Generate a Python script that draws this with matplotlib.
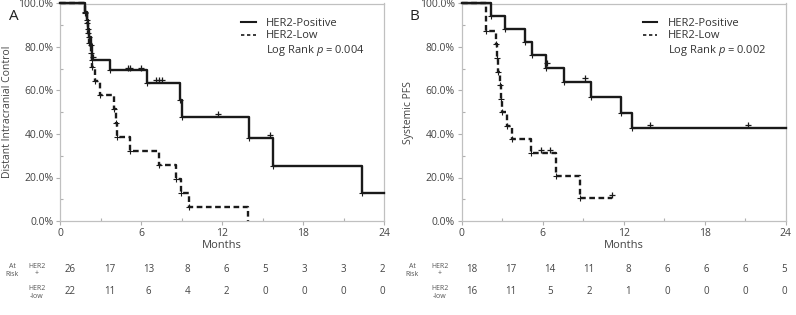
import numpy as np
import matplotlib
matplotlib.use('Agg')
import matplotlib.pyplot as plt
import matplotlib.transforms as mtransforms
from matplotlib.lines import Line2D
from matplotlib.ticker import MultipleLocator, FuncFormatter

plt.rcParams['font.family'] = ['Open Sans', 'DejaVu Sans']
plt.rcParams['mathtext.fontset'] = 'custom'
plt.rcParams['mathtext.it'] = 'Open Sans:italic'
plt.rcParams['mathtext.rm'] = 'Open Sans'

# Panel A - distant intracranial control
a_pos_t = [0, 1.85, 1.95, 2.05, 2.15, 2.25, 2.35, 3.65, 6.45, 8.85, 9.05, 14.0, 15.8, 22.4, 24]
a_pos_s = [100, 96.2, 92.3, 88.5, 84.6, 80.8, 74.0, 69.2, 63.5, 55.6, 47.6, 38.0, 25.4, 12.7, 12.7]
a_pos_cens_t = [2.45, 5.0, 5.15, 5.95, 7.1, 7.3, 7.55, 11.7, 15.55]
a_pos_cens_s = [75.5, 70.5, 70.5, 70.5, 65.0, 65.0, 65.0, 49.0, 39.5]

a_low_t = [0, 1.85, 1.95, 2.05, 2.15, 2.25, 2.32, 2.55, 2.98, 3.98, 4.15, 4.22, 5.2, 7.3, 8.6, 8.98, 9.55, 13.93]
a_low_s = [100, 95.5, 90.9, 86.4, 81.8, 77.3, 71.0, 64.5, 58.0, 51.7, 45.0, 38.7, 32.3, 25.8, 19.4, 12.9, 6.5, 0]
a_low_cens_t = []
a_low_cens_s = []

a_risk_pos = [26, 17, 13, 8, 6, 5, 3, 3, 2]
a_risk_low = [22, 11, 6, 4, 2, 0, 0, 0, 0]

# Panel B - systemic PFS
b_pos_t = [0, 2.17, 3.23, 4.69, 5.23, 6.25, 7.58, 9.58, 11.78, 12.64, 24]
b_pos_s = [100, 94.4, 88.3, 82.4, 76.4, 70.5, 64.1, 56.9, 49.8, 42.7, 42.7]
b_pos_cens_t = [6.3, 9.15, 13.95, 21.2]
b_pos_cens_s = [72.5, 65.6, 44.0, 44.0]

b_low_t = [0, 1.8, 2.52, 2.6, 2.68, 2.85, 2.9, 3.0, 3.33, 3.7, 5.11, 7.01, 8.77, 11.16]
b_low_s = [100, 87.5, 81.2, 75.0, 68.7, 62.5, 56.2, 50.0, 43.7, 37.5, 31.2, 20.8, 10.4, 10.4]
b_low_cens_t = [5.88, 6.54, 11.16]
b_low_cens_s = [32.5, 32.5, 12.0]

b_risk_pos = [18, 17, 14, 11, 8, 6, 6, 6, 5]
b_risk_low = [16, 11, 5, 2, 1, 0, 0, 0, 0]

W, H = 796, 315
fig = plt.figure(figsize=(W / 100, H / 100), dpi=100)

ax_a = fig.add_axes([60.3 / W, 1 - 221 / H, (384 - 60.3) / W, (221 - 3.5) / H])
ax_b = fig.add_axes([461.7 / W, 1 - 221 / H, (785.7 - 461.7) / W, (221 - 3.5) / H])

ink = '#1a1a1a'
dash = (2.4, 1.5)
txt = '#444444'


def draw_panel(ax, pos_t, pos_s, pcens_t, pcens_s, low_t, low_s, lcens_t, lcens_s, ylabel, letter, pval):
    ax.step(pos_t, pos_s, where='post', color=ink, lw=1.7, clip_on=False, zorder=3)
    ax.step(low_t, low_s, where='post', color=ink, lw=1.7, dashes=dash, clip_on=False, zorder=3)
    # event + censor marks
    ax.plot(pos_t[1:-1], pos_s[1:-1], '+', color=ink, ms=4, mew=0.8, zorder=4)
    ax.plot(low_t[1:-1], low_s[1:-1], '+', color=ink, ms=4, mew=0.8, zorder=4)
    ax.plot(pcens_t, pcens_s, '+', color=ink, ms=5, mew=0.9, zorder=4)
    ax.plot(lcens_t, lcens_s, '+', color=ink, ms=5, mew=0.9, zorder=4)

    ax.set_xlim(0, 24)
    ax.set_ylim(0, 100)
    ax.xaxis.set_major_locator(MultipleLocator(6))
    ax.xaxis.set_minor_locator(MultipleLocator(3))
    ax.yaxis.set_major_locator(MultipleLocator(20))
    ax.yaxis.set_minor_locator(MultipleLocator(10))
    ax.yaxis.set_major_formatter(FuncFormatter(lambda v, p: f'{v:.1f}%'))
    for sp in ax.spines.values():
        sp.set_color('#c0c0c0')
        sp.set_linewidth(0.9)
    ax.tick_params(which='major', direction='out', length=3, width=0.8, color='#b0b0b0',
                   labelsize=7.5, labelcolor=txt, pad=2)
    ax.tick_params(which='minor', direction='in', length=2, width=0.8, color='#b0b0b0')
    ax.set_xlabel('Months', fontsize=8, color=txt, labelpad=1)
    ax.set_ylabel(ylabel, fontsize=7.5, color=txt, labelpad=4)

    handles = [Line2D([], [], color=ink, lw=1.5),
               Line2D([], [], color=ink, lw=1.2, dashes=(2.0, 1.6)),
               Line2D([], [], color='none')]
    labels = ['HER2-Positive', 'HER2-Low', 'Log Rank $p$ = ' + pval]
    ax.legend(handles, labels, loc='upper left', bbox_to_anchor=(0.545, 0.955), frameon=False,
              fontsize=8, handlelength=1.3, handletextpad=0.95, labelspacing=0.15,
              borderaxespad=0, labelcolor='#333333')

    ax.text(-0.16, 0.975, letter, transform=ax.transAxes, fontsize=11, color='#222222',
            ha='left', va='top')


draw_panel(ax_a, a_pos_t, a_pos_s, a_pos_cens_t, a_pos_cens_s,
           a_low_t, a_low_s, a_low_cens_t, a_low_cens_s,
           'Distant Intracranial Control', 'A', '0.004')
draw_panel(ax_b, b_pos_t, b_pos_s, b_pos_cens_t, b_pos_cens_s,
           b_low_t, b_low_s, b_low_cens_t, b_low_cens_s,
           'Systemic PFS', 'B', '0.002')


def risk_table(ax, risk_pos, risk_low, at_x, her_x):
    tr = mtransforms.blended_transform_factory(ax.transData, fig.transFigure)
    xs = np.linspace(0.75, 23.9, len(risk_pos))
    y1 = 1 - 270 / H
    y2 = 1 - 291 / H
    for x, n in zip(xs, risk_pos):
        ax.text(x, y1, str(n), transform=tr, fontsize=7, color=txt, ha='center', va='center')
    for x, n in zip(xs, risk_low):
        ax.text(x, y2, str(n), transform=tr, fontsize=7, color=txt, ha='center', va='center')
    small = dict(fontsize=5, color='#555555', ha='center', va='center')
    fig.text(at_x / W, 1 - 267 / H, 'At', **small)
    fig.text(at_x / W, 1 - 275 / H, 'Risk', **small)
    fig.text(her_x / W, 1 - 267 / H, 'HER2', **small)
    fig.text(her_x / W, 1 - 274 / H, '+', **small)
    fig.text(her_x / W, 1 - 288 / H, 'HER2', **small)
    fig.text(her_x / W, 1 - 296 / H, '-low', **small)


risk_table(ax_a, a_risk_pos, a_risk_low, 12, 37)
risk_table(ax_b, b_risk_pos, b_risk_low, 412, 440)

fig.savefig('out.png', dpi=100)
